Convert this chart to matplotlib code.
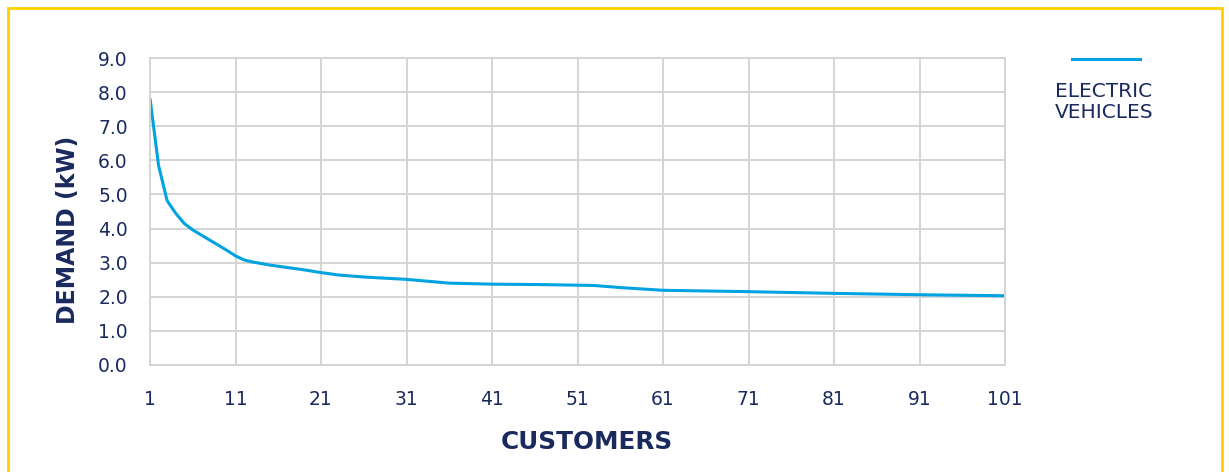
import matplotlib.pyplot as plt
from matplotlib.lines import Line2D
from matplotlib.patches import Rectangle

# after-diversity demand per customer count
customers = [1, 2, 3, 4, 5, 6, 7, 8, 9, 10, 11, 12, 13, 15, 17, 19, 21, 23,
             26, 31, 36, 41, 46, 51, 53, 56, 61, 71, 81, 91, 101]
demand_kw = [7.82, 5.85, 4.82, 4.45, 4.15, 3.96, 3.81, 3.66, 3.51, 3.36, 3.2, 3.08,
             3.02, 2.93, 2.86, 2.79, 2.71, 2.64, 2.58, 2.51, 2.4, 2.37, 2.36, 2.34,
             2.33, 2.27, 2.19, 2.15, 2.1, 2.06, 2.03]
series_name = 'ELECTRIC\nVEHICLES'

navy = '#1b2a5e'
blue = '#00a3e0'
grid = '#d4d4d4'

fig = plt.figure(figsize=(12.29, 4.72), dpi=100)
ax = fig.add_axes([150 / 1229, 1 - 365 / 472, 855 / 1229, 307 / 472])

ax.plot(customers, demand_kw, color=blue, lw=2.2, solid_capstyle='butt')

ax.set_xlim(1, 101)
ax.set_ylim(0, 9)
ax.set_xticks(range(1, 102, 10))
ax.set_yticks(range(0, 10))
ax.set_yticklabels([f'{v:.1f}' for v in range(0, 10)])
ax.grid(True, color=grid, lw=1.4)
ax.set_axisbelow(True)
for s in ax.spines.values():
    s.set_color(grid)
    s.set_linewidth(1.4)
ax.tick_params(length=0, colors=navy, labelsize=13.5)
ax.tick_params(axis='y', pad=16)
ax.tick_params(axis='x', pad=18)

ax.set_xlabel('CUSTOMERS', fontsize=17.8, fontweight='bold', color=navy)
ax.set_ylabel('DEMAND (kW)', fontsize=17, fontweight='bold', color=navy)
ax.xaxis.set_label_coords((587 - 150) / 855, -(442 - 365) / 307)
ax.yaxis.set_label_coords(-(150 - 68) / 855, (365 - 230) / 307)
ax.xaxis.label.set_va('center')
ax.yaxis.label.set_va('center')

# legend drawn by hand on the right
fig.add_artist(Line2D([1072 / 1229, 1140 / 1229], [1 - 59 / 472] * 2,
                      color=blue, lw=2.2, transform=fig.transFigure))
fig.text(1055 / 1229, 1 - 82 / 472, series_name, color=navy, fontsize=14.5,
         ha='left', va='top', linespacing=1.15)

# yellow frame
fig.add_artist(Rectangle((8 / 1229, -0.05), 1214 / 1229, 1.05 - 8 / 472,
                         transform=fig.transFigure, fill=False,
                         edgecolor='#ffd100', lw=2))

fig.savefig('out.png', dpi=100)
